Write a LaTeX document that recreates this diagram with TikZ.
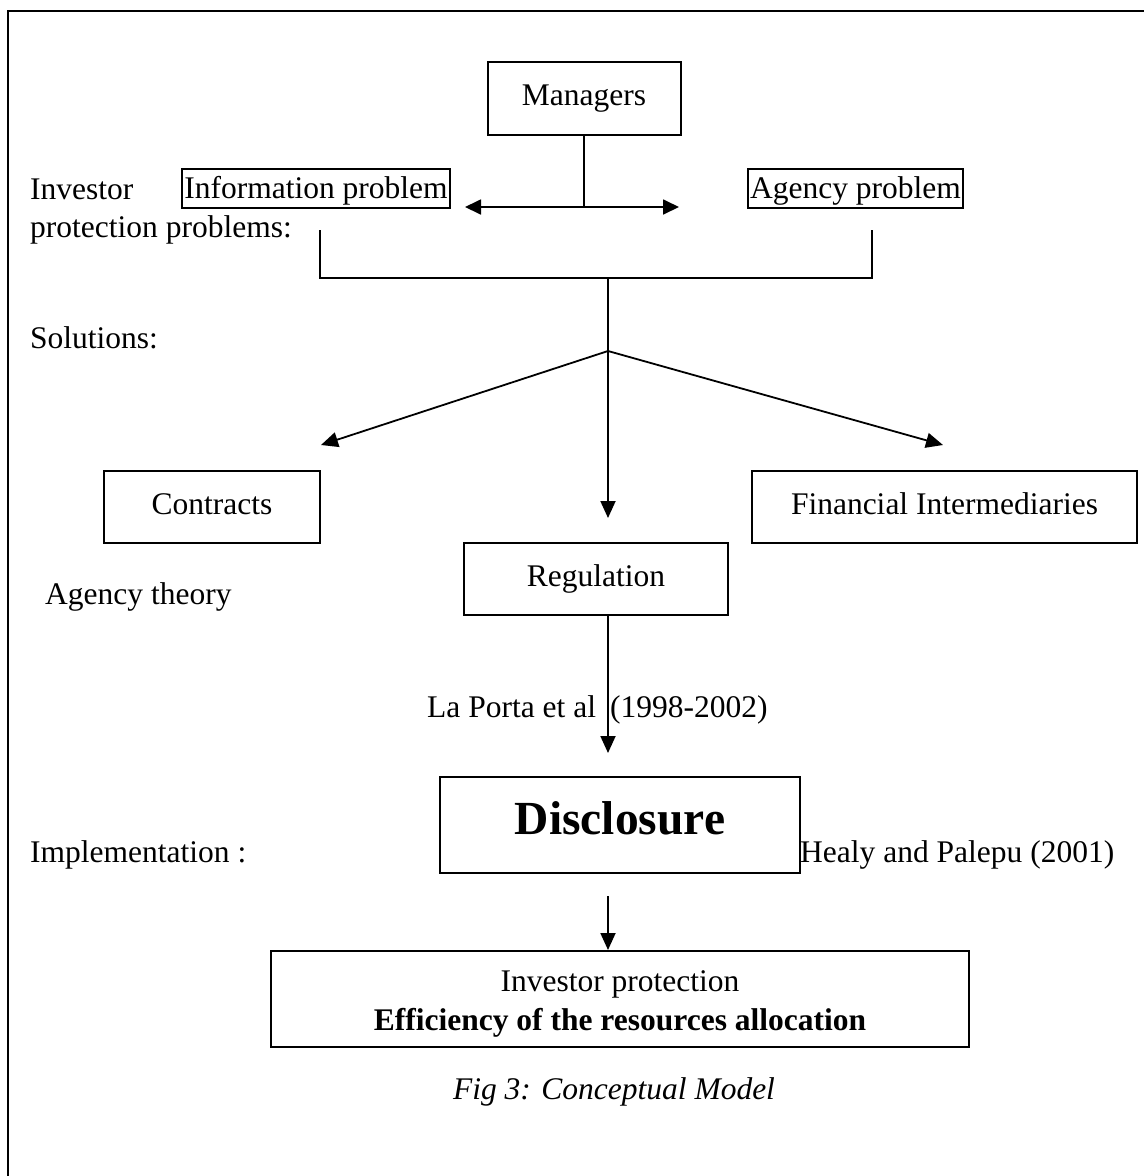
\documentclass[tikz,border=0pt]{standalone}
\usepackage{fontspec}
\setmainfont{Liberation Serif}
\usetikzlibrary{arrows.meta}
\begin{document}
\begin{tikzpicture}[x=1pt,y=-1pt,
  txt/.style={font=\fontsize{31.5}{39}\selectfont, inner sep=0pt},
  box/.style={draw, line width=2pt, txt, text height=21pt, text depth=7pt},
  tbox/.style={draw, line width=1.8pt, txt, inner xsep=2pt, inner ysep=6pt, text height=23pt, text depth=4pt},
  conn/.style={line width=1.8pt},
  arr/.style={conn, -{Triangle[length=17pt,width=15pt]}},
  darr/.style={conn, {Triangle[length=16pt,width=15pt]}-{Triangle[length=16pt,width=15pt]}}]
\useasboundingbox (0,0) rectangle (1144,1176);
\draw[line width=2.2pt] (8,1176) -- (8,11) -- (1144,11);

% top
\node[box, minimum width=193pt, minimum height=73pt] (mgr) at (584,98.5) {Managers};
\node[tbox] (info) at (316,188.5) {Information problem};
\node[tbox] (agency) at (855.5,188.5) {Agency problem};
\node[txt, anchor=base west] (inv1) at (30,199) {Investor};
\node[txt, anchor=base west] (inv2) at (30,237) {protection problems:};

\coordinate (la) at (465,207);
\coordinate (ra) at (679,207);
\coordinate (mm) at (584,207);
\draw[conn] (mgr.south) -- (mm);
\draw[darr] (la) -- (ra);

% bracket
\coordinate (bl) at (320,230);
\coordinate (br) at (872,230);
\coordinate (bc) at (608,278);
\coordinate (j) at (608,351);
\draw[conn] (bl) -- (bl |- bc) -- (br |- bc) -- (br);
\draw[conn] (bc) -- (j);

\node[txt, anchor=base west] (sol) at (30,348) {Solutions:};

% solutions
\coordinate (tl) at (321,445);
\coordinate (tr) at (943,445);
\coordinate (tm) at (608,518);
\draw[arr] (j) -- (tl);
\draw[arr] (j) -- (tr);
\draw[arr] (j) -- (tm);

\node[box, minimum width=216pt, minimum height=72pt] (con) at (212,507) {Contracts};
\node[box, minimum width=385pt, minimum height=72pt] (fin) at (944.5,507) {Financial Intermediaries};
\node[box, minimum width=264pt, minimum height=72pt] (reg) at (596,579) {Regulation};
\node[txt, anchor=base west] (agt) at (45,604) {Agency theory};

% regulation to disclosure
\node[txt, anchor=base west] (lap) at (427,717) {La Porta et al\hspace{14pt}(1998-2002)};
\coordinate (dt) at (608,753);
\draw[arr] (reg.south -| j) -- (dt);

\node[box, minimum width=360pt, minimum height=96pt, font=\fontsize{47.5}{57}\selectfont\bfseries, text height=33pt, text depth=15pt] (dis) at (620,825) {Disclosure};
\node[txt, anchor=base west] (impl) at (30,862) {Implementation :};
\node[txt, anchor=base west] (hp) at (800,862) {Healy and Palepu (2001)};

% bottom
\node[draw, line width=2pt, minimum width=698pt, minimum height=96pt] (bot) at (620,999) {};
\node[txt, anchor=base] (ip) at (620,991) {Investor protection};
\node[txt, anchor=base, font=\fontsize{31.5}{39}\selectfont\bfseries] (eff) at (620,1030) {Efficiency of the resources allocation};
\coordinate (ds) at (608,896);
\draw[arr] (ds) -- (bot.north -| ds);

\node[txt, anchor=base] (cap) at (614,1099) {\itshape Fig 3: Conceptual Model};
\end{tikzpicture}
\end{document}
